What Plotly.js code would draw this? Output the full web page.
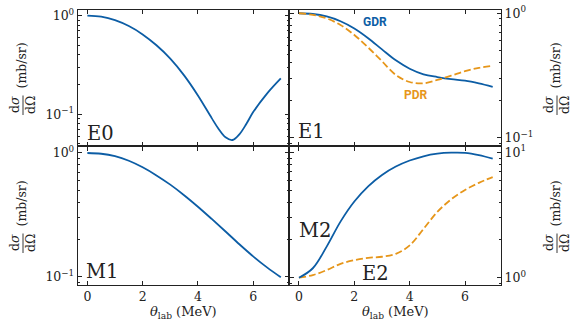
<!DOCTYPE html>
<html>
<head>
<meta charset="utf-8">
<script src="https://cdn.plot.ly/plotly-3.0.1.min.js"></script>
<style>html,body{margin:0;padding:0;background:#fff}#chart{width:572px;height:322px}</style>
</head>
<body>
<div id="chart"></div>
<script>
// ---- data ----
const theta = [0, 0.5, 1, 1.5, 2, 2.5, 3, 3.5, 4, 4.5, 5, 5.5, 6, 6.5, 7];
const thetaE0 = [0, 0.5, 1, 1.5, 2, 2.5, 3, 3.5, 4, 4.5, 4.75, 5, 5.25, 5.5, 5.75, 6, 6.5, 7];
const e0 = [1.0, 0.977, 0.902, 0.785, 0.646, 0.501, 0.367, 0.248, 0.155, 0.0912, 0.0708, 0.0582, 0.0547, 0.0624, 0.0794, 0.105, 0.162, 0.231];
const e1Gdr = [1.0, 0.986, 0.942, 0.863, 0.755, 0.631, 0.513, 0.419, 0.359, 0.324, 0.308, 0.296, 0.288, 0.274, 0.257];
const e1Pdr = [1.0, 0.970, 0.910, 0.805, 0.670, 0.531, 0.412, 0.320, 0.281, 0.274, 0.292, 0.316, 0.343, 0.365, 0.378];
const m1 = [1.0, 0.986, 0.942, 0.865, 0.766, 0.659, 0.555, 0.456, 0.368, 0.293, 0.232, 0.183, 0.146, 0.119, 0.099];
const m2 = [1.0, 1.19, 1.77, 2.8, 4.05, 5.35, 6.6, 7.7, 8.6, 9.3, 9.75, 9.93, 9.9, 9.5, 8.9];
const e2 = [1.0, 1.05, 1.15, 1.29, 1.38, 1.44, 1.47, 1.55, 1.81, 2.45, 3.35, 4.22, 5.01, 5.71, 6.35];
const xTicks = [0, 2, 4, 6];
const panelLabels = ['E0', 'E1', 'M1', 'M2', 'E2'];
const seriesLabels = ['GDR', 'PDR'];

// ---- styling ----
const W = 572, H = 322;
const px = x => x / W, py = y => 1 - y / H;
const BLUE = '#0C5DA5', ORANGE = '#E6961A';
const SERIF = 'DejaVu Serif';
const INK = '#222';

const xL = [px(77.7), px(289.1)], xR = [px(289.3), px(501)];
const yT = [py(146.3), py(9.5)], yB = [py(285), py(146.3)];

function minorVals(lo, hi) {
  const v = [];
  for (let e = -3; e <= 2; e++) for (let d = 2; d <= 9; d++) {
    const val = d * Math.pow(10, e);
    if (val > lo && val < hi) v.push(val);
  }
  return v;
}
const base = {
  showline: true, linecolor: INK, linewidth: 1, mirror: 'ticks',
  ticks: 'inside', ticklen: 4.5, tickwidth: 1, tickcolor: INK,
  showgrid: false, zeroline: false,
  tickfont: {family: SERIF, size: 12.5, color: INK}
};
function xax(domain, anchor, labels) {
  return Object.assign({}, base, {domain, anchor, range: [-0.35, 7.3],
    tickvals: xTicks, ticktext: xTicks.map(String), showticklabels: labels});
}
function yax(domain, anchor, range, side, major) {
  return Object.assign({}, base, {domain, anchor, type: 'log', range, side,
    tickvals: major,
    ticktext: major.map(v => '10<sup>' + (Math.log10(v) < 0 ? '−' : '') + Math.abs(Math.round(Math.log10(v))) + '</sup>'),
    minor: {tickvals: minorVals(0.01, 100), ticks: 'inside', ticklen: 2.5, tickcolor: INK, tickwidth: 1}
  });
}

const lineB = {color: BLUE, width: 1.8, shape: 'spline', smoothing: 1};
const lineO = {color: ORANGE, width: 1.8, shape: 'spline', smoothing: 1, dash: '7px,3px'};
const traces = [
  {x: thetaE0, y: e0, xaxis: 'x', yaxis: 'y', mode: 'lines', line: lineB},
  {x: theta, y: e1Gdr, xaxis: 'x2', yaxis: 'y2', mode: 'lines', line: lineB},
  {x: theta, y: e1Pdr, xaxis: 'x2', yaxis: 'y2', mode: 'lines', line: lineO},
  {x: theta, y: m1, xaxis: 'x3', yaxis: 'y3', mode: 'lines', line: lineB},
  {x: theta, y: e2, xaxis: 'x4', yaxis: 'y4', mode: 'lines', line: lineO},
  {x: theta, y: m2, xaxis: 'x4', yaxis: 'y4', mode: 'lines', line: lineB}
];

const ann = [];
const shapes = [];
function txt(text, x, y, size, opts) {
  ann.push(Object.assign({text, x: px(x), y: py(y), xref: 'paper', yref: 'paper',
    showarrow: false, xanchor: 'center', yanchor: 'middle',
    font: {family: SERIF, size, color: INK}}, opts || {}));
}
// panel labels
txt(panelLabels[0], 100, 133.5, 19.5);
txt(panelLabels[1], 311.5, 131.5, 19.5);
txt(panelLabels[2], 102, 271, 19.5);
txt(panelLabels[3], 315, 230, 19.5);
txt(panelLabels[4], 375, 273.5, 19.5);
// series labels
txt('<b>' + seriesLabels[0] + '</b>', 375, 22.5, 12, {font: {family: 'Roboto', size: 12, color: BLUE}});
txt('<b>' + seriesLabels[1] + '</b>', 416, 95, 12, {font: {family: 'Roboto', size: 12, color: ORANGE}});
// x titles
const xTitle = '<i>θ</i><sub>lab</sub> (MeV)';
txt(xTitle, 183, 312, 13);
txt(xTitle, 395, 312, 13);
// y titles (fraction built from pieces)
function yTitle(bar, cy) {
  txt('d<i>σ</i>', bar - 9, cy + 27, 12.5, {textangle: -90});
  txt('dΩ', bar + 7, cy + 27, 12.5, {textangle: -90});
  txt('(mb/sr)', bar - 2.5, cy - 12, 12.5, {textangle: -90});
  shapes.push({type: 'line', xref: 'paper', yref: 'paper', x0: px(bar), x1: px(bar),
    y0: py(cy + 17.5), y1: py(cy + 37), line: {color: INK, width: 0.9}});
}
yTitle(23, 78);
yTitle(23, 216);
yTitle(557, 78);
yTitle(557, 216);

const layout = {
  width: W, height: H, margin: {l: 0, r: 0, t: 0, b: 0},
  paper_bgcolor: '#fff', plot_bgcolor: '#fff', showlegend: false,
  xaxis: xax(xL, 'y', false),
  yaxis: yax(yT, 'x', [-1.326, 0.063], 'left', [0.1, 1]),
  xaxis2: xax(xR, 'y2', false),
  yaxis2: yax(yT, 'x2', [-1.067, 0.03], 'right', [0.1, 1]),
  xaxis3: xax(xL, 'y3', true),
  yaxis3: yax(yB, 'x3', [-1.067, 0.054], 'left', [0.1, 1]),
  xaxis4: xax(xR, 'y4', true),
  yaxis4: yax(yB, 'x4', [-0.058, 1.048], 'right', [1, 10]),
  annotations: ann, shapes
};
Plotly.newPlot('chart', traces, layout, {staticPlot: true, displayModeBar: false});
</script>
</body>
</html>
